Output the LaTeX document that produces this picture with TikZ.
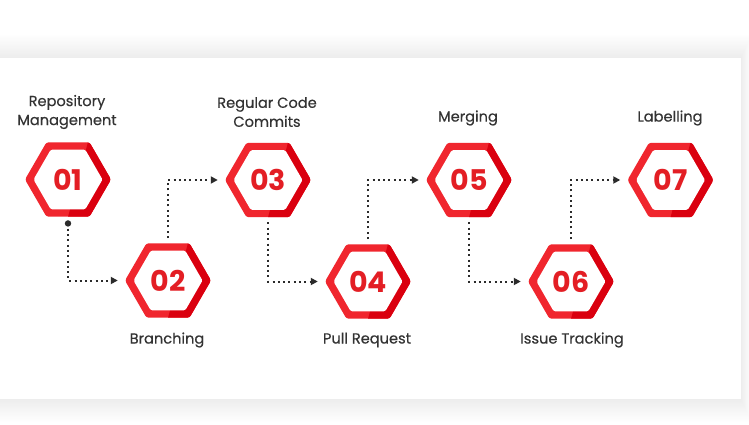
\documentclass[tikz,border=0pt]{standalone}
\usepackage{fontspec}
\setmainfont{Poppins}
\newfontfamily\labfont{Poppins}[FakeBold=0.35]
\usetikzlibrary{shapes.geometric,arrows.meta,calc}
\definecolor{hexred}{HTML}{F0262E}
\definecolor{hexdark}{HTML}{DA000F}
\definecolor{numred}{HTML}{E31E24}
\definecolor{txt}{HTML}{333333}
\definecolor{conn}{HTML}{2B2B2B}
\tikzset{
  hexa/.style={regular polygon, regular polygon sides=6, minimum size=86pt,
    inner sep=0pt, fill=hexred, rounded corners=2.5pt,
    font=\bfseries\fontsize{28.5}{28.5}\selectfont, text=numred,
    path picture={
      \coordinate (pc) at (path picture bounding box.center);
      \fill[hexdark] ($(pc)+(22,-45)$) -- ($(pc)+(60,-45)$) -- ($(pc)+(60,45)$) -- ($(pc)+(-2,45)$) -- cycle;
      \fill[white, rounded corners=1.5pt] ($(pc)+(0:34.5)$) -- ($(pc)+(60:34.5)$) -- ($(pc)+(120:34.5)$) -- ($(pc)+(180:34.5)$) -- ($(pc)+(240:34.5)$) -- ($(pc)+(300:34.5)$) -- cycle;
    }},
  lab/.style={text=txt, font=\labfont\fontsize{14.6}{19}\selectfont, align=center, inner sep=0pt},
  conline/.style={draw=conn, line width=2pt, dash pattern=on 2pt off 3.3pt,
    -{Triangle[length=7pt,width=7pt]}, shorten >=7pt}
}
\begin{document}
\begin{tikzpicture}[x=1pt,y=-1pt]
\useasboundingbox (0,0) rectangle (749,425);
\fill[white] (0,0) rectangle (749,425);
% shadow
\foreach \i in {1,...,18}{
  \fill[black, opacity=0.005] (-30,{58-\i*1.3}) rectangle ({741+\i*0.6},{399+\i*1.3});
}
\fill[white] (-30,58) rectangle (741,399);
% hexagons
\node[hexa] (h1) at (68,179.5) {01};
\node[hexa] (h2) at (168,280.5) {02};
\node[hexa] (h3) at (268,180) {03};
\node[hexa] (h4) at (368,281.5) {04};
\node[hexa] (h5) at (469,180) {05};
\node[hexa] (h6) at (571,281.5) {06};
\node[hexa] (h7) at (670.5,180) {07};
% labels
\node[lab] (l1) at (67,112) {Repository\\Management};
\node[lab] (l2) at (167,340) {Branching};
\node[lab] (l3) at (267,112) {Regular Code\\Commits};
\node[lab] (l4) at (367,340) {Pull Request};
\node[lab] (l5) at (468,118) {Merging};
\node[lab] (l6) at (572,340) {Issue Tracking};
\node[lab] (l7) at (670,118) {Labelling};
% connectors
\coordinate (s1) at ([yshift=-6.5pt]h1.south);
\coordinate (s2) at ([yshift=5pt]h2.north);
\coordinate (s3) at ([yshift=-5pt]h3.south);
\coordinate (s4) at ([yshift=5pt]h4.north);
\coordinate (s5) at ([yshift=-5pt]h5.south);
\coordinate (s6) at ([yshift=5pt]h6.north);
\fill[conn] (s1) circle (3.2pt);
\draw[conline] (s1) |- (h2.west);
\draw[conline] (s2) |- (h3.west);
\draw[conline] (s3) |- (h4.west);
\draw[conline] (s4) |- (h5.west);
\draw[conline] (s5) |- (h6.west);
\draw[conline] (s6) |- (h7.west);
\end{tikzpicture}
\end{document}
